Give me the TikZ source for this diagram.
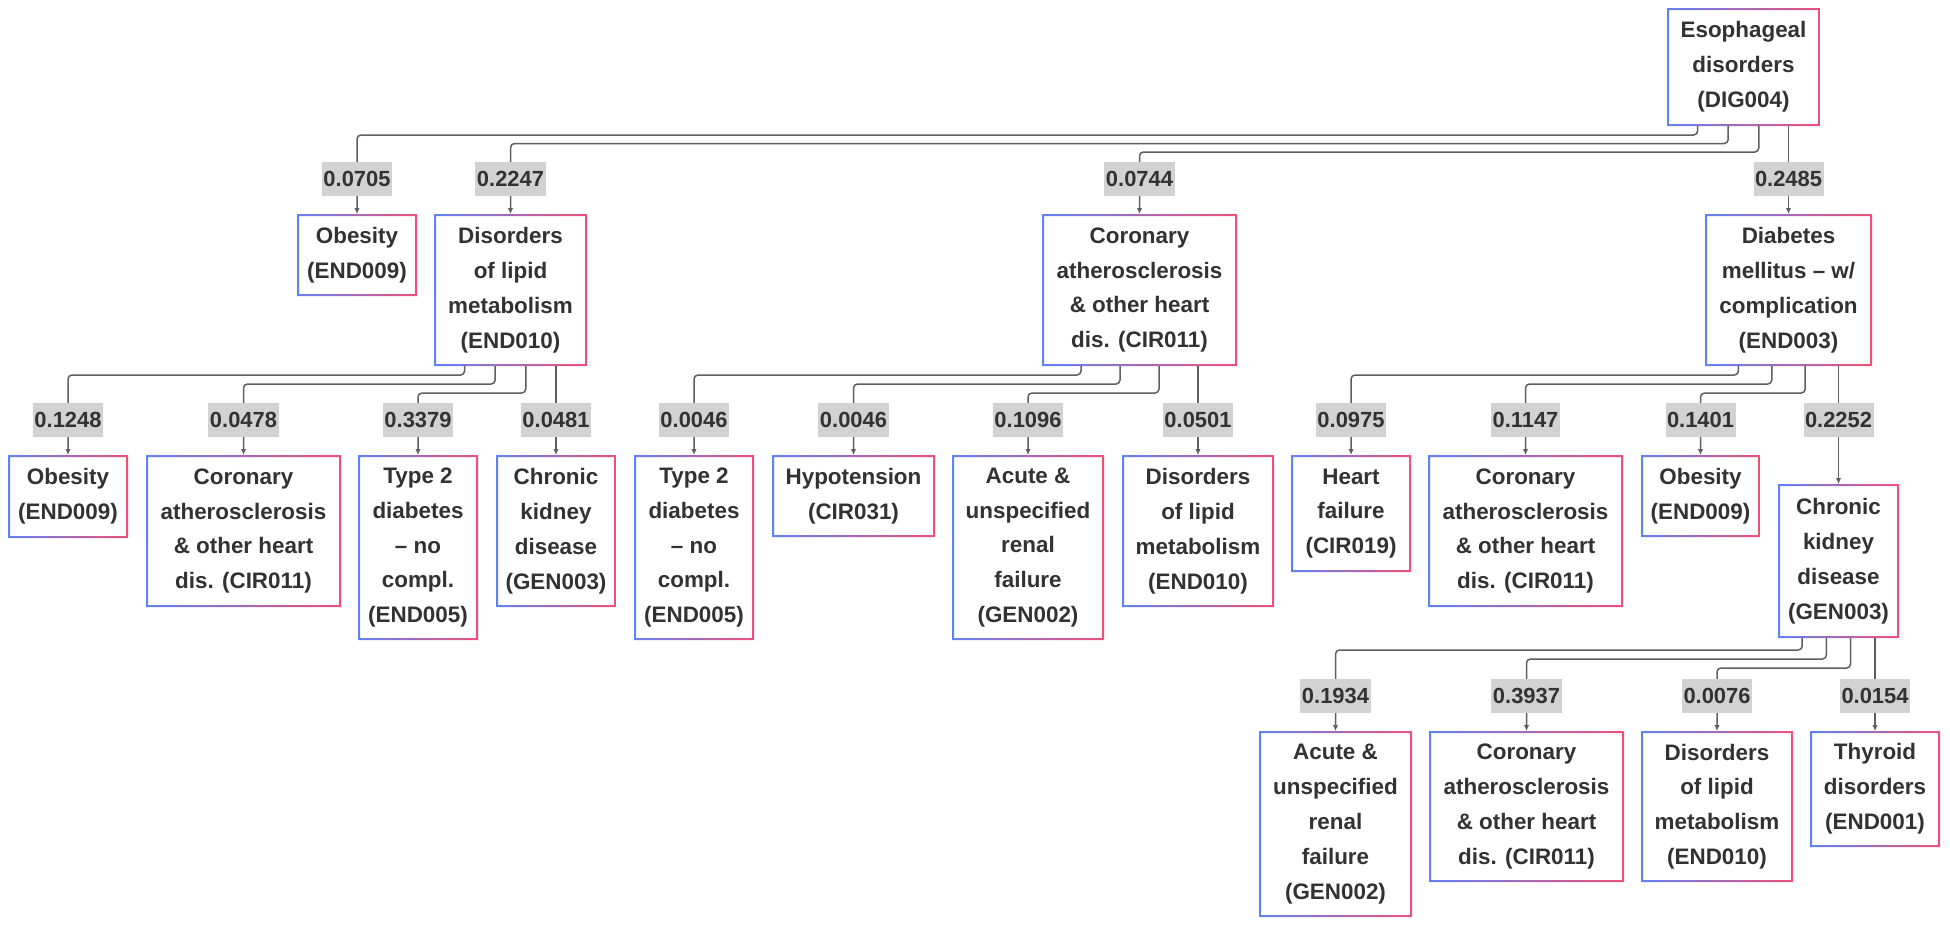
\documentclass[tikz,border=0pt]{standalone}
\usepackage{fontspec}
\setmainfont{Liberation Sans}
\usetikzlibrary{arrows.meta,calc}
\definecolor{myblue}{RGB}{95,130,245}
\definecolor{mypink}{RGB}{238,80,120}
\definecolor{txtc}{RGB}{50,50,50}
\definecolor{lblc}{RGB}{210,210,210}
\definecolor{linec}{RGB}{95,95,95}

\newcommand\gbox[6]{%
  \shade[left color=myblue,right color=mypink,even odd rule] (#2,#3) rectangle (#4,#5) ({#2+2},{#3+2}) rectangle ({#4-2},{#5-2});
  \node[boxnode,minimum width={(#4-#2)*1bp},minimum height={(#5-#3)*1bp},anchor=north west] (#1) at (#2,#3) {};
  \node[boxtxt] at (#1.center) {#6};
}
\newcommand\conn[4]{%
  \draw[conn] ($(#1.south west)!#2!(#1.south east)$) -- ++(0,#3) -| (#4.north);
}
\newcommand\sconn[2]{%
  \draw[conn] (#1.south -| #2.north) -- (#2.north);
}
\newcommand\lbl[3]{%
  \node[lbl] (#1) at ($(#2.north)+(0,-35.5)$) {#3};
}

\begin{document}
\begin{tikzpicture}[x=1bp,y=-1bp,
  boxnode/.style={draw=none,inner sep=0,outer sep=0},
  boxtxt/.style={align=center,inner sep=0,text=txtc,font=\fontsize{22.5}{35}\selectfont\bfseries},
  conn/.style={draw=linec,line width=1.5bp,rounded corners=4bp,-{Latex[length=6bp,width=5.5bp]}},
  lbl/.style={fill=lblc,text=txtc,inner xsep=1.5bp,inner ysep=0,minimum height=34bp,font=\fontsize{22}{22}\selectfont\bfseries}
]
\fill[white] (0,0) rectangle (1950,925);
\useasboundingbox (0,0) rectangle (1950,925);

% root
\gbox{root}{1667}{8}{1820}{126}{Esophageal\\disorders\\(DIG004)}
% level 1
\gbox{obA}{297}{214}{417}{296}{Obesity\\(END009)}
\gbox{lipA}{434}{214}{587}{366}{Disorders\\of lipid\\metabolism\\(END010)}
\gbox{corA}{1042}{214}{1237}{366}{Coronary\\atherosclerosis\\\& other heart\\dis. (CIR011)}
\gbox{diaA}{1705}{214}{1872}{366}{Diabetes\\mellitus \textendash{} w/\\complication\\(END003)}
% level 2: children of lipid
\gbox{obB}{8}{455}{128}{538}{Obesity\\(END009)}
\gbox{corB}{146}{455}{341}{607}{Coronary\\atherosclerosis\\\& other heart\\dis. (CIR011)}
\gbox{tdB}{358}{455}{478}{640}{Type 2\\diabetes\\\textendash{} no\\compl.\\(END005)}
\gbox{ckB}{496}{455}{616}{607}{Chronic\\kidney\\disease\\(GEN003)}
% level 2: children of coronary
\gbox{tdC}{634}{455}{754}{640}{Type 2\\diabetes\\\textendash{} no\\compl.\\(END005)}
\gbox{hypC}{772}{455}{935}{537}{Hypotension\\(CIR031)}
\gbox{acuC}{952}{455}{1104}{640}{Acute \&\\unspecified\\renal\\failure\\(GEN002)}
\gbox{lipC}{1122}{455}{1274}{607}{Disorders\\of lipid\\metabolism\\(END010)}
% level 2: children of diabetes
\gbox{hfD}{1291}{455}{1411}{572}{Heart\\failure\\(CIR019)}
\gbox{corD}{1428}{455}{1623}{607}{Coronary\\atherosclerosis\\\& other heart\\dis. (CIR011)}
\gbox{obD}{1641}{455}{1760}{537}{Obesity\\(END009)}
\gbox{ckD}{1778}{484}{1899}{638}{Chronic\\kidney\\disease\\(GEN003)}
% level 3
\gbox{acuE}{1259}{731}{1412}{917}{Acute \&\\unspecified\\renal\\failure\\(GEN002)}
\gbox{corE}{1429}{731}{1624}{882}{Coronary\\atherosclerosis\\\& other heart\\dis. (CIR011)}
\gbox{lipE}{1641}{731}{1793}{882}{Disorders\\of lipid\\metabolism\\(END010)}
\gbox{thyE}{1810}{731}{1940}{847}{Thyroid\\disorders\\(END001)}

% connectors
\conn{root}{0.2}{9}{obA}
\conn{root}{0.4}{17.5}{lipA}
\conn{root}{0.6}{26}{corA}
\sconn{root}{diaA}

\conn{lipA}{0.2}{9}{obB}
\conn{lipA}{0.4}{18}{corB}
\conn{lipA}{0.6}{27}{tdB}
\sconn{lipA}{ckB}

\conn{corA}{0.2}{9}{tdC}
\conn{corA}{0.4}{18}{hypC}
\conn{corA}{0.6}{27}{acuC}
\sconn{corA}{lipC}

\conn{diaA}{0.2}{9}{hfD}
\conn{diaA}{0.4}{18}{corD}
\conn{diaA}{0.6}{27}{obD}
\sconn{diaA}{ckD}

\conn{ckD}{0.2}{12}{acuE}
\conn{ckD}{0.4}{21}{corE}
\conn{ckD}{0.6}{30}{lipE}
\sconn{ckD}{thyE}

% labels
\lbl{lobA}{obA}{0.0705}
\lbl{llipA}{lipA}{0.2247}
\lbl{lcorA}{corA}{0.0744}
\lbl{ldiaA}{diaA}{0.2485}
\lbl{lobB}{obB}{0.1248}
\lbl{lcorB}{corB}{0.0478}
\lbl{ltdB}{tdB}{0.3379}
\lbl{lckB}{ckB}{0.0481}
\lbl{ltdC}{tdC}{0.0046}
\lbl{lhypC}{hypC}{0.0046}
\lbl{lacuC}{acuC}{0.1096}
\lbl{llipC}{lipC}{0.0501}
\lbl{lhfD}{hfD}{0.0975}
\lbl{lcorD}{corD}{0.1147}
\lbl{lobD}{obD}{0.1401}
\node[lbl] (lckD) at (ckD.north |- lobD) {0.2252};
\lbl{lacuE}{acuE}{0.1934}
\lbl{lcorE}{corE}{0.3937}
\lbl{llipE}{lipE}{0.0076}
\lbl{lthyE}{thyE}{0.0154}
\end{tikzpicture}
\end{document}
